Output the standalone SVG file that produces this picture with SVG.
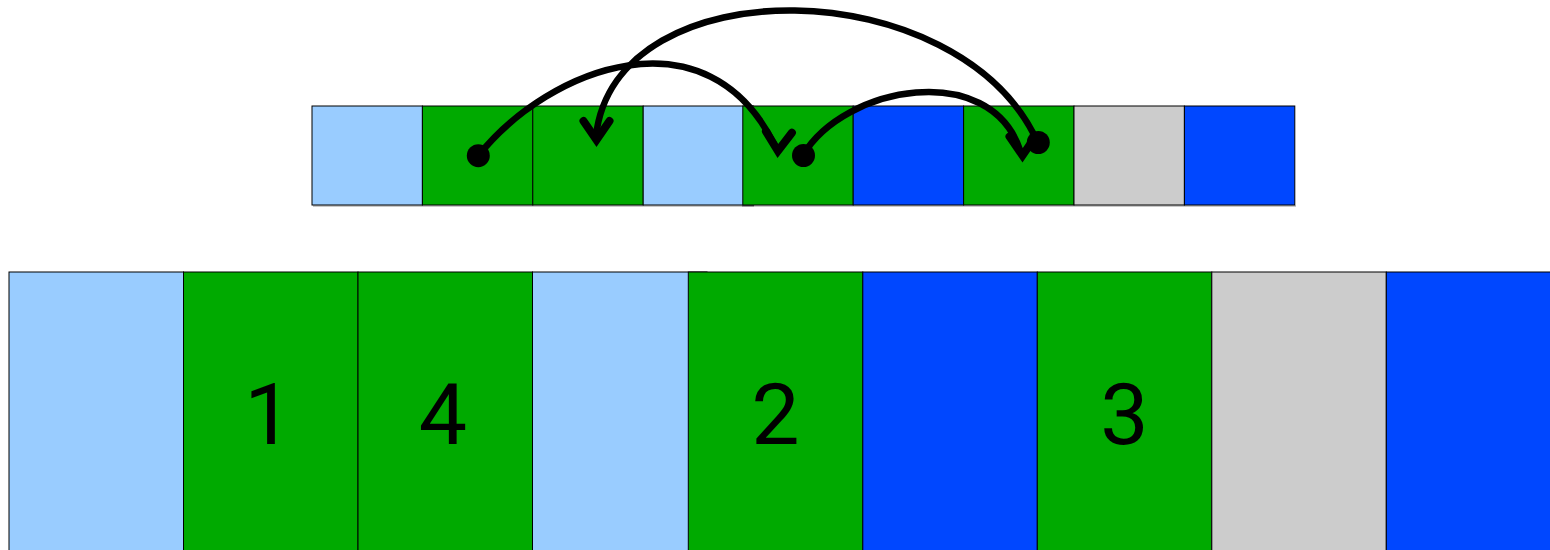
<svg xmlns="http://www.w3.org/2000/svg" width="1550" height="550" viewBox="0 0 1550 550">
<style>
  .cell { stroke: #000; stroke-width: 1; }
  .lb { fill: #99CCFF; }
  .gr { fill: #00AA00; }
  .bl { fill: #0047FF; }
  .gy { fill: #CCCCCC; }
  .lbl { font-family: Roboto, "Liberation Sans", Arial, sans-serif; font-size: 86px; fill: #000; text-anchor: middle; }
  .conn { fill: none; stroke: #000; stroke-width: 6.5; }
  .head { fill: none; stroke: #000; stroke-width: 8; stroke-linecap: round; stroke-linejoin: miter; stroke-miterlimit: 6; }
  .dot { fill: #000; }
</style>
<defs>
  <path id="ah" class="head" d="M-13,-27 L0,-8 L13,-27"/>
</defs>
<rect width="1550" height="550" fill="#fff"/>

<!-- top row shadow -->
<rect x="313" y="205" width="983" height="2" fill="#c8c8c8"/>
<rect x="742" y="205" width="12" height="2" fill="#9a9a9a"/>

<g id="top-row">
  <g id="t1"><rect class="cell lb" x="312" y="106" width="110.4" height="99"/></g>
  <g id="t2"><rect class="cell gr" x="422.4" y="106" width="110.4" height="99"/></g>
  <g id="t3"><rect class="cell gr" x="532.8" y="106" width="110.4" height="99"/></g>
  <g id="t4"><rect class="cell lb" x="643.2" y="106" width="110.4" height="99"/></g>
  <g id="t5"><rect class="cell gr" x="742.8" y="106" width="110.4" height="99"/></g>
  <g id="t6"><rect class="cell bl" x="853.2" y="106" width="110.4" height="99"/></g>
  <g id="t7"><rect class="cell gr" x="963.6" y="106" width="110.4" height="99"/></g>
  <g id="t8"><rect class="cell gy" x="1074" y="106" width="110.4" height="99"/></g>
  <g id="t9"><rect class="cell bl" x="1184.4" y="106" width="110.4" height="99"/></g>
</g>

<g id="bottom-row">
  <g id="b1"><rect class="cell lb" x="9" y="272" width="174.5" height="290"/></g>
  <g id="b2"><rect class="cell gr" x="183.5" y="272" width="174.5" height="290"/>
    <text class="lbl" x="268.5" y="444">1</text></g>
  <g id="b3"><rect class="cell gr" x="358" y="272" width="174.5" height="290"/>
    <text class="lbl" x="443" y="444">4</text></g>
  <g id="b4"><rect class="cell lb" x="532.5" y="272" width="174.5" height="290"/></g>
  <g id="b5"><rect class="cell gr" x="688.3" y="272" width="174.5" height="290"/>
    <text class="lbl" x="775.5" y="444">2</text></g>
  <g id="b6"><rect class="cell bl" x="862.8" y="272" width="174.5" height="290"/></g>
  <g id="b7"><rect class="cell gr" x="1037.3" y="272" width="174.5" height="290"/>
    <text class="lbl" x="1124.5" y="444">3</text></g>
  <g id="b8"><rect class="cell gy" x="1211.8" y="272" width="174.5" height="290"/></g>
  <g id="b9"><rect class="cell bl" x="1386.3" y="272" width="174.5" height="290"/></g>
</g>

<g id="connectors">
  <g id="arrow-1">
    <path class="conn" d="M478,156 C550,66 708,8 775,146"/>
    <use href="#ah" transform="translate(777.5,159) rotate(3)"/>
    <circle class="dot" cx="478.3" cy="155.7" r="11.5"/>
  </g>
  <g id="arrow-3">
    <path class="conn" d="M803,155 C845,85 990,60 1020,150"/>
    <use href="#ah" transform="translate(1022.5,163.5)"/>
    <circle class="dot" cx="803.5" cy="155.5" r="11.5"/>
  </g>
  <g id="arrow-2">
    <path class="conn" d="M1038,143 C960,-30 615,-35 596,136"/>
    <use href="#ah" transform="translate(596.5,148)"/>
    <circle class="dot" cx="1038.3" cy="142.5" r="11.5"/>
  </g>
</g>
</svg>
